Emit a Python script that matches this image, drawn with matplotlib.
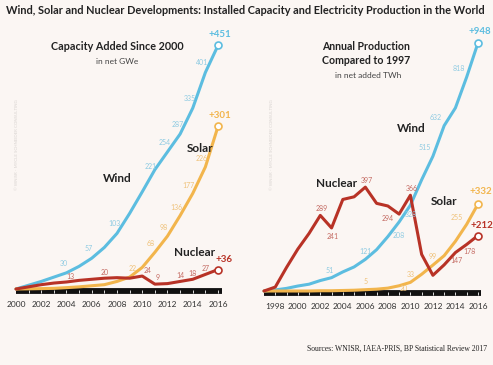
import matplotlib
matplotlib.use("Agg")
import matplotlib.pyplot as plt
from matplotlib import font_manager

# capacity added since 2000, net GWe
cap_years = list(range(2000, 2017))
cap_wind = [0, 7, 14, 22, 30, 42, 57, 77, 103, 140, 180, 221, 254, 287, 335, 401, 451]
cap_solar = [0, 0.3, 0.7, 1.2, 2.5, 4, 6, 8, 14, 22, 40, 68, 98, 136, 177, 226, 301]
cap_nuclear = [0, 4, 8, 11, 13, 16, 18, 20, 21, 20, 24, 9, 10, 14, 18, 27, 36]

# annual production compared to 1997, net added TWh
prod_years = list(range(1997, 2017))
prod_wind = [0, 4, 10, 19, 26, 40, 51, 73, 92, 121, 158, 208, 264, 328, 425, 515, 632, 700, 818, 948]
prod_solar = [0, 0, 0, 0, 0, 1, 1, 2, 3, 5, 7, 11, 20, 33, 64, 99, 135, 190, 255, 332]
prod_nuclear = [0, 15, 90, 160, 220, 289, 241, 350, 360, 397, 335, 325, 294, 366, 140, 60, 100, 147, 178, 212]

# which years get a value label
cap_wind_lab = [2004, 2006, 2008, 2011, 2012, 2013, 2014, 2015]
cap_solar_lab = [2009, 2011, 2012, 2013, 2014, 2015]
cap_nuclear_lab = [2004, 2007, 2010, 2011, 2013, 2014, 2015]
prod_wind_lab = [2003, 2006, 2008, 2010, 2012, 2013, 2015]
prod_solar_lab = [2006, 2009, 2010, 2012, 2015]
prod_nuclear_lab = [2002, 2003, 2006, 2009, 2010, 2014, 2015]

W, H = 493, 365
BG = "#fbf6f3"
C_WIND, C_SOLAR, C_NUC = "#5cbde0", "#f2b54c", "#b83226"
L_WIND, L_SOLAR, L_NUC = "#8fcbe2", "#efc27a", "#c46a62"

names = {f.name for f in font_manager.fontManager.ttflist}
FONT = "Lato" if "Lato" in names else "DejaVu Sans"

fig = plt.figure(figsize=(W / 100, H / 100), dpi=100, facecolor=BG)


def panel(px_left, px_width, year0, year0_px, px_year, base_px, px_unit, bar_end):
    # place axes so that data lands at the measured pixel spots
    bottom, top = 30, 345
    ax = fig.add_axes([px_left / W, bottom / H, px_width / W, (top - bottom) / H])
    ax.set_xlim(year0 - (year0_px - px_left) / px_year,
                year0 + (px_left + px_width - year0_px) / px_year)
    base = H - base_px
    ax.set_ylim(-(base - bottom) / px_unit, (top - base) / px_unit)
    ax.axis("off")
    ax.patch.set_alpha(0)
    # black ruler under the curves
    off = 2.0 / px_unit
    ax.plot([year0, bar_end], [-off, -off], color="#111111", lw=4.2,
            solid_capstyle="butt", zorder=1)
    ax.vlines(range(year0 + 1, int(bar_end) + 1), -off - 1.5 / px_unit, -off + 1.5 / px_unit,
              color="white", lw=0.6, zorder=2)
    return ax


def series(ax, years, vals, color, lcolor, lab_years, offs, end_off):
    ax.plot(years, vals, color=color, lw=2.2, zorder=3, solid_capstyle="round",
            solid_joinstyle="round")
    ax.plot(years[-1], vals[-1], "o", ms=5, mfc="white", mec=color, mew=1.2, zorder=4)
    for y in lab_years:
        v = vals[years.index(y)]
        dx, dy = offs.get(y, offs["d"])
        ax.annotate(str(v), (y, v), xytext=(dx, dy), textcoords="offset points",
                    ha="center", va="center", fontsize=5, color=lcolor,
                    family=FONT, zorder=5)
    ax.annotate("+%d" % vals[-1], (years[-1], vals[-1]), xytext=end_off,
                textcoords="offset points", ha="center", va="center",
                fontsize=7, color=color, fontweight="bold", family=FONT, zorder=5)


# left panel
ax1 = panel(0, 245, 2000, 16, 12.625, 289, 0.54, 2016.3)
series(ax1, cap_years, cap_wind, C_WIND, L_WIND, cap_wind_lab,
       {"d": (-2, 7), 2011: (-3, 2)}, (1, 8))
series(ax1, cap_years, cap_solar, C_SOLAR, L_SOLAR, cap_solar_lab,
       {"d": (-3, 6), 2009: (2, 6)}, (1, 8))
series(ax1, cap_years, cap_nuclear, C_NUC, L_NUC, cap_nuclear_lab,
       {"d": (0, 4), 2010: (4, 4), 2011: (2, 5), 2004: (3, 4)}, (4, 7))
for yr in range(2000, 2017, 2):
    ax1.annotate(str(yr), (yr, 0), xytext=(0, -11), textcoords="offset points",
                 ha="center", va="center", fontsize=6, color="#333333", family=FONT)

# right panel
ax2 = panel(250, 243, 1997, 264, 11.26, 291, 0.2616, 2016.3)
series(ax2, prod_years, prod_wind, C_WIND, L_WIND, prod_wind_lab,
       {"d": (-6, 6), 2003: (-1, 5), 2006: (0, 6), 2008: (8, 1), 2010: (0, -7)}, (1, 8))
series(ax2, prod_years, prod_solar, C_SOLAR, L_SOLAR, prod_solar_lab,
       {"d": (0, 6), 2009: (3, -2), 2015: (-7, 5)}, (2, 9))
series(ax2, prod_years, prod_nuclear, C_NUC, L_NUC, prod_nuclear_lab,
       {"d": (1, 5), 2003: (1, -6), 2009: (-8, -3), 2014: (1, -6), 2015: (2, -5)}, (3, 7))
for yr in range(1998, 2017, 2):
    ax2.annotate(str(yr), (yr, 0), xytext=(0, -11), textcoords="offset points",
                 ha="center", va="center", fontsize=6, color="#333333", family=FONT)


def ftext(px, py, s, width=None, **kw):
    kw.setdefault("family", FONT)
    kw.setdefault("color", "#222222")
    t = fig.text(px / W, 1 - py / H, s, va="center", **kw)
    if width:
        # shrink/grow the font to roughly the width of the reference text
        fig.canvas.draw()
        fs = t.get_fontsize()
        t.set_fontsize(fs * width / t.get_window_extent().width)
    return t


ftext(6, 11, "Wind, Solar and Nuclear Developments: Installed Capacity and "
      "Electricity Production in the World", width=481, ha="left", fontsize=9,
      fontweight="bold")

ftext(117, 47, "Capacity Added Since 2000", width=132, ha="center", fontsize=8,
      fontweight="bold")
ftext(117, 62, "in net GWe", ha="center", fontsize=6, color="#444444")
head = ftext(366, 47, "Annual Production", width=88, ha="center", fontsize=8,
             fontweight="bold")
ftext(366, 61, "Compared to 1997", ha="center", fontsize=head.get_fontsize(),
      fontweight="bold")
ftext(368, 75, "in net added TWh", ha="center", fontsize=6, color="#444444")

ftext(117, 178, "Wind", ha="center", fontsize=8.5, fontweight="bold")
ftext(200, 148, "Solar", ha="center", fontsize=8.5, fontweight="bold")
ftext(195, 253, "Nuclear", ha="center", fontsize=8.5, fontweight="bold")
ftext(411, 128, "Wind", ha="center", fontsize=8.5, fontweight="bold")
ftext(337, 183, "Nuclear", ha="center", fontsize=8.5, fontweight="bold")
ftext(444, 202, "Solar", ha="center", fontsize=8.5, fontweight="bold")

# faint vertical watermark
for px in (17, 272):
    ftext(px, 145, "© WNISR - MYCLE SCHNEIDER CONSULTING", ha="center", fontsize=3.2,
          rotation=90, color="#d9d4d1")

ftext(487, 349, "Sources: WNISR, IAEA-PRIS, BP Statistical Review 2017", ha="right",
      fontsize=5.5, family="Liberation Serif", color="#222222")

fig.savefig("out.png", dpi=100, facecolor=BG)
